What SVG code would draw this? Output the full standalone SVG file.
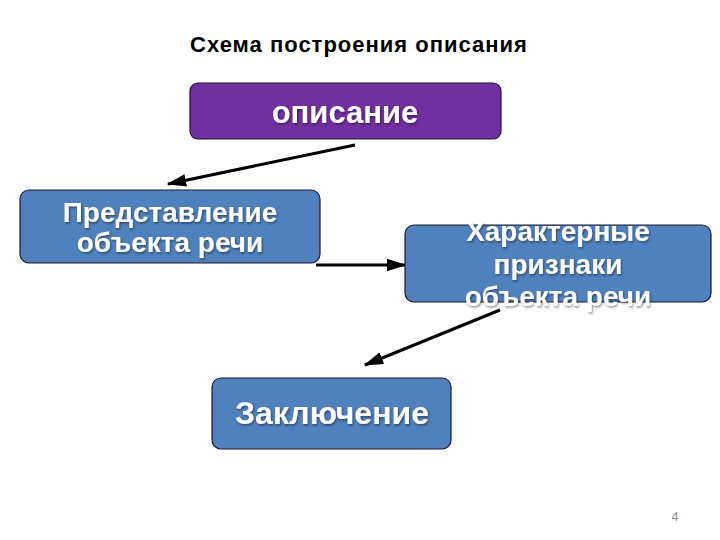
<svg xmlns="http://www.w3.org/2000/svg" width="720" height="540" viewBox="0 0 720 540">
<defs>
<style>
.box{stroke:#1a1a2e;stroke-width:1.2}
.blue{fill:#4F81BD}
.purple{fill:#7030A0}
.lbl{font-family:"Liberation Sans",Arial,sans-serif;font-weight:bold;fill:#ffffff;text-anchor:middle;filter:url(#sh)}
.conn{stroke:#000;stroke-width:3;fill:none;marker-end:url(#ah)}
</style>
<filter id="sh" x="-10%" y="-20%" width="120%" height="150%">
<feDropShadow dx="1" dy="1.5" stdDeviation="0.8" flood-color="#000" flood-opacity="0.45"/>
</filter>
<marker id="ah" viewBox="0 0 14 9" refX="13" refY="4.5" markerWidth="6.5" markerHeight="4.3" orient="auto" markerUnits="strokeWidth">
<path d="M0,0 L14,4.5 L0,9 z" fill="#000"/>
</marker>
</defs>
<rect width="720" height="540" fill="#fff"/>
<text x="359" y="52" font-family="'Liberation Sans',Arial,sans-serif" font-weight="bold" font-size="22" letter-spacing="1" text-anchor="middle" fill="#000">Схема построения описания</text>
<g id="connectors">
<line class="conn" x1="355" y1="145" x2="168" y2="184"/>
<line class="conn" x1="316" y1="265" x2="405" y2="265"/>
<line class="conn" x1="500" y1="310" x2="365" y2="365"/>
</g>
<g id="node-opisanie">
<rect class="box purple" x="190" y="83" width="311" height="56" rx="8"/>
<text class="lbl" x="345" y="123" font-size="31">описание</text>
</g>
<g id="node-predstavlenie">
<rect class="box blue" x="20" y="190" width="300" height="73" rx="9"/>
<text class="lbl" x="170" y="222" font-size="28">Представление</text>
<text class="lbl" x="170" y="252" font-size="28">объекта речи</text>
</g>
<g id="node-priznaki">
<rect class="box blue" x="405" y="225" width="306" height="77" rx="9"/>
<text class="lbl" x="558" y="241" font-size="28">Характерные</text>
<text class="lbl" x="558" y="274" font-size="28">признаки</text>
<text class="lbl" x="558" y="306" font-size="28">объекта речи</text>
</g>
<g id="node-zaklyuchenie">
<rect class="box blue" x="212" y="378" width="239" height="71" rx="9"/>
<text class="lbl" x="332" y="424" font-size="32">Заключение</text>
</g>
<text x="675" y="521" font-family="'Liberation Sans',Arial,sans-serif" font-size="12" text-anchor="middle" fill="#888">4</text>
</svg>
